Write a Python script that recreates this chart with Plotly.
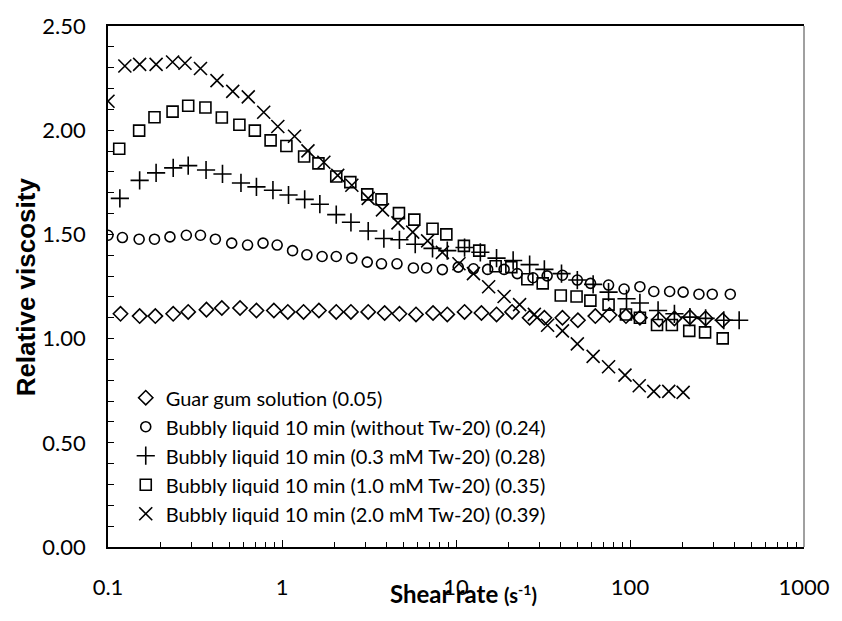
import plotly.graph_objects as go

# ---- data ----
guar_x = [0.118, 0.152, 0.187, 0.237, 0.289, 0.368, 0.451, 0.574, 0.713, 0.898, 1.08, 1.33, 1.63, 2.05, 2.49, 3.13,
          3.89, 4.73, 5.89, 7.38, 8.91, 11.2, 14.0, 17.1, 21.0, 26.5, 32.2, 40.9, 50.2, 63.2, 76.3, 94.8,
          114, 147, 180, 221, 272, 341]
guar_y = [1.119, 1.108, 1.108, 1.119, 1.128, 1.139, 1.147, 1.147, 1.135, 1.135, 1.128, 1.128, 1.135, 1.128, 1.128, 1.128,
          1.123, 1.119, 1.116, 1.123, 1.116, 1.128, 1.123, 1.116, 1.128, 1.100, 1.100, 1.100, 1.088, 1.108, 1.113, 1.108,
          1.100, 1.092, 1.097, 1.103, 1.097, 1.088]

circ_x = [0.1, 0.121, 0.151, 0.185, 0.227, 0.282, 0.340, 0.414, 0.514, 0.634, 0.778, 0.938, 1.15, 1.39, 1.70, 2.05, 2.52, 3.09,
          3.73, 4.58, 5.69, 6.78, 8.35, 10.3, 12.6, 15.2, 18.9, 22.5, 27.7, 33.4, 40.9, 49.8, 59.3,
          75.3, 92.5, 114, 137, 169, 202, 249, 297, 377]
circ_y = [1.496, 1.485, 1.477, 1.477, 1.488, 1.496, 1.496, 1.477, 1.458, 1.449, 1.458, 1.449, 1.422, 1.402, 1.394, 1.394, 1.386, 1.367,
          1.359, 1.359, 1.339, 1.339, 1.331, 1.343, 1.335, 1.332, 1.332, 1.312, 1.292, 1.301, 1.304, 1.281, 1.265,
          1.257, 1.238, 1.249, 1.226, 1.226, 1.223, 1.213, 1.213, 1.213]

plus_x = [0.117, 0.152, 0.189, 0.237, 0.289, 0.366, 0.455, 0.581, 0.713, 0.887, 1.09, 1.35, 1.65, 2.05, 2.49, 3.13,
          3.85, 4.73, 5.83, 7.33, 8.91, 11.2, 13.8, 17.1, 21.3, 26.5, 32.2, 40.4, 49.8, 61.4,
          75.3, 95.5, 114, 145, 180, 221, 272, 346, 424]
plus_y = [1.673, 1.759, 1.795, 1.819, 1.830, 1.809, 1.790, 1.747, 1.728, 1.712, 1.689, 1.668, 1.645, 1.595, 1.558, 1.516,
          1.480, 1.474, 1.453, 1.433, 1.422, 1.437, 1.414, 1.386, 1.375, 1.355, 1.332, 1.312, 1.281, 1.260,
          1.223, 1.191, 1.171, 1.135, 1.119, 1.103, 1.097, 1.088, 1.088]

sq_x = [0.116, 0.151, 0.185, 0.235, 0.289, 0.363, 0.451, 0.569, 0.698, 0.860, 1.06, 1.34, 1.62, 2.05, 2.47, 3.09, 3.73,
        4.70, 5.76, 7.33, 8.80, 11.1, 13.6, 16.9, 20.8, 25.7, 31.5, 40.0, 49.3, 59.2,
        75.3, 94.8, 114, 143, 174, 219, 270, 341]
sq_y = [1.911, 1.998, 2.062, 2.089, 2.117, 2.109, 2.061, 2.026, 1.998, 1.951, 1.924, 1.874, 1.841, 1.778, 1.751, 1.692, 1.668,
        1.602, 1.571, 1.527, 1.500, 1.445, 1.422, 1.347, 1.343, 1.285, 1.265, 1.207, 1.202, 1.182,
        1.163, 1.116, 1.100, 1.065, 1.065, 1.037, 1.030, 1.001]

x_x = [0.1, 0.125, 0.152, 0.189, 0.235, 0.277, 0.340, 0.423, 0.521, 0.640, 0.785, 0.946, 1.18, 1.41, 1.74, 2.09, 2.52, 3.13,
       3.78, 4.64, 5.64, 6.87, 8.35, 10.4, 12.6, 15.4, 18.9, 23.2, 28.2, 33.6, 40.9, 49.8, 61.4, 75.3, 93.6,
       113, 137, 167, 202]
x_y = [2.139, 2.308, 2.316, 2.316, 2.327, 2.321, 2.296, 2.238, 2.186, 2.160, 2.086, 2.018, 1.971, 1.901, 1.846, 1.783, 1.736, 1.673,
       1.618, 1.555, 1.511, 1.469, 1.414, 1.359, 1.312, 1.249, 1.202, 1.163, 1.116, 1.064, 1.037, 0.975, 0.915, 0.865, 0.825,
       0.774, 0.747, 0.747, 0.742]

series = [
    ("Guar gum solution (0.05)", guar_x, guar_y, "diamond-open", 11),
    ("Bubbly liquid 10 min (without Tw-20) (0.24)", circ_x, circ_y, "circle-open", 10),
    ("Bubbly liquid 10 min (0.3 mM Tw-20) (0.28)", plus_x, plus_y, "cross-thin-open", 13),
    ("Bubbly liquid 10 min (1.0 mM Tw-20) (0.35)", sq_x, sq_y, "square-open", 11),
    ("Bubbly liquid 10 min (2.0 mM Tw-20) (0.39)", x_x, x_y, "x-thin-open", 13),
]

x_ticks = [0.1, 1, 10, 100, 1000]
x_ticktext = ["0.1", "1", "10", "100", "1000"]
x_minor = [m * 10 ** e for e in (-1, 0, 1, 2) for m in range(2, 10)]
y_ticks = [0, 0.5, 1.0, 1.5, 2.0, 2.5]
y_ticktext = ["0.00", "0.50", "1.00", "1.50", "2.00", "2.50"]

fig = go.Figure()
for i, (name, xs, ys, sym, size) in enumerate(series):
    fig.add_trace(go.Scatter(
        x=xs, y=ys, mode="markers", name=name, legendgroup=f"g{i}",
        marker=dict(symbol=sym, size=size, color="black",
                    line=dict(color="black", width=1.6)),
    ))

fig.update_layout(
    width=842, height=621,
    margin=dict(l=108, r=29, t=16, b=74),
    paper_bgcolor="white", plot_bgcolor="white",
    font=dict(family="Lato, sans-serif", color="black"),
    showlegend=True,
    legend=dict(
        x=0.0255, y=0.324, xanchor="left", yanchor="top",
        bgcolor="rgba(0,0,0,0)", font=dict(size=20, family="Lato"),
        itemwidth=30, tracegroupgap=4, traceorder="normal",
    ),
    xaxis=dict(
        type="log", range=[-1, 3],
        tickmode="array", tickvals=x_ticks, ticktext=x_ticktext,
        ticks="inside", ticklen=7, tickwidth=1, tickcolor="black",
        minor=dict(tickmode="array", tickvals=x_minor, ticks="inside", ticklen=5,
                   tickwidth=1, tickcolor="black", showgrid=False),
        showgrid=False, zeroline=False,
        showline=True, linecolor="black", linewidth=1.5, mirror=True,
        tickfont=dict(size=22, family="Lato"), ticklabelstandoff=20,
    ),
    yaxis=dict(
        range=[0, 2.5],
        tickmode="array", tickvals=y_ticks, ticktext=y_ticktext,
        ticks="inside", ticklen=6, tickwidth=1, tickcolor="black",
        minor=dict(dtick=0.1, ticks="inside", ticklen=6, tickwidth=1,
                   tickcolor="black", showgrid=False),
        showgrid=False, zeroline=False,
        showline=True, linecolor="black", linewidth=1.5, mirror=False,
        tickfont=dict(size=22, family="Lato"), ticklabelstandoff=16,
    ),
    annotations=[
        dict(text="<b>Shear rate <span style='font-size:20px'>(s<sup>-1</sup>)</span></b>",
             xref="paper", yref="paper", x=0.511, y=-0.089,
             xanchor="center", yanchor="middle", showarrow=False,
             font=dict(size=24, family="Lato", color="black")),
        dict(text="<b>Relative viscosity</b>", textangle=-90,
             xref="paper", yref="paper", x=-0.118, y=0.5,
             xanchor="center", yanchor="middle", showarrow=False,
             font=dict(size=26, family="Liberation Sans, Arial", color="black")),
    ],
    shapes=[
        dict(type="line", xref="paper", yref="paper", x0=1, x1=1, y0=0, y1=1,
             line=dict(color="#808080", width=1.5)),
    ],
)

fig.write_html("out.html")
